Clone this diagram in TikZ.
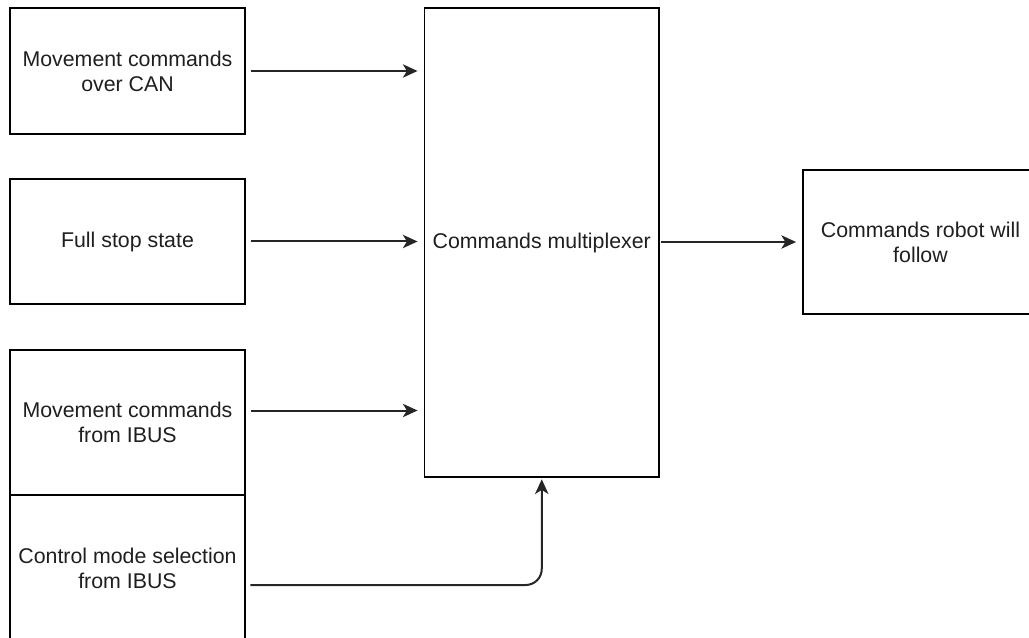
\documentclass[tikz,border=0pt]{standalone}
\usepackage{fontspec}
\setmainfont{Liberation Sans}
\usetikzlibrary{arrows.meta}
\begin{document}
\begin{tikzpicture}[x=0.75pt,y=-0.75pt,
  block/.style={draw=black, line width=1.4pt, fill=white, align=center,
    inner sep=0pt, font=\fontsize{16}{18.8}\selectfont, text=black!88},
  flow/.style={draw=black!85, line width=1.5pt,
    -{Stealth[length=11pt,width=10pt,inset=3pt]}, shorten <=4pt, shorten >=4.5pt}]
\useasboundingbox (0,0) rectangle (1029,638);
% input blocks on the left
\node[block, minimum width={235*0.75pt}, minimum height={126*0.75pt}] (can) at (127.5,71) {Movement commands\\over CAN};
\node[block, minimum width={235*0.75pt}, minimum height={125*0.75pt}] (stop) at (127.5,241.5) {Full stop state};
\node[block, minimum width={235*0.75pt}, minimum height={145*0.75pt}] (ibus) at (127.5,422.5) {Movement commands\\from IBUS};
\node[block, minimum width={235*0.75pt}, minimum height={146*0.75pt}] (mode) at (127.5,568) {Control mode selection\\from IBUS};
% multiplexer and output
\node[block, minimum width={234.5*0.75pt}, minimum height={469*0.75pt}] (mux) at (541.75,242.5) {Commands multiplexer};
\node[block, minimum width={235*0.75pt}, minimum height={144*0.75pt}] (out) at (920.5,242) {Commands robot will\\follow};
% connectors
\draw[flow] (can.east) -- (can.east -| mux.west);
\draw[flow] (stop.east) -- (stop.east -| mux.west);
\draw[flow] (ibus.east) ++(0,-12) coordinate (i3) (i3) -- (i3 -| mux.west);
\coordinate (m4) at (245,585);
\draw[flow, rounded corners=12pt, shorten >=1pt] (m4) -- (m4 -| mux.south) -- (mux.south);
\draw[flow, shorten <=1pt] (mux.east |- out.west) -- (out.west);
\end{tikzpicture}
\end{document}
